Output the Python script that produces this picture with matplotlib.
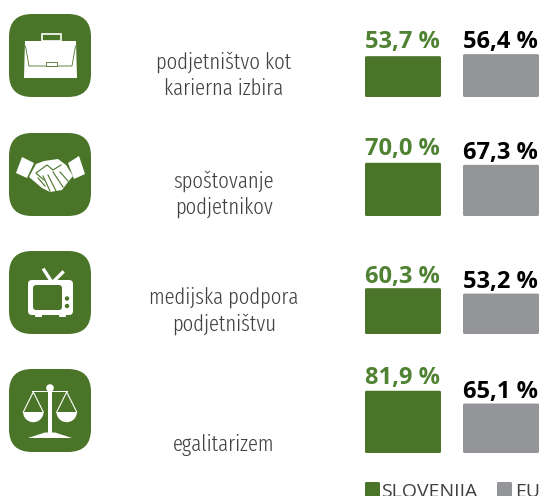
#!/usr/bin/env python3

"""Survey bars: Slovenia vs EU, four rows with an icon and a label each."""

import matplotlib

matplotlib.use("Agg")

import matplotlib.pyplot as plt
from matplotlib.patches import Circle, FancyBboxPatch, Polygon, Rectangle, Wedge

labels = [
    "podjetništvo kot\nkarierna izbira",
    "spoštovanje\npodjetnikov",
    "medijska podpora\npodjetništvu",
    "egalitarizem",
]
slovenia = [53.7, 70.0, 60.3, 81.9]
eu = [56.4, 67.3, 53.2, 65.1]
legend_names = ["SLOVENIJA", "EU"]

GREEN = "#4a7529"
TEXT_GREEN = "#4f8232"
GRAY = "#939598"
LABEL = "#414042"
WHITE = "#ffffff"

PX_PER_PCT = 0.76
BASELINES = [97, 216, 334, 453]
ICON_TOPS = [14, 133, 251, 369]
LABEL_Y = [75, 194, 311, 445]
GREEN_GAPS = [8, 8, 5.5, 7]
LABEL_FONT = ["Fira Sans Extra Condensed", "Open Sans"]


def rounded(ax, x, y, w, h, r, color, zorder=2):
    ax.add_patch(
        FancyBboxPatch(
            (x + r, y + r),
            w - 2 * r,
            h - 2 * r,
            boxstyle=f"round,pad={r},rounding_size={r}",
            fc=color,
            ec="none",
            zorder=zorder,
        )
    )


def briefcase(ax, top):
    o = top - 14
    ax.add_patch(
        Rectangle((41.5, 33.5 + o), 19, 7, fc="none", ec=WHITE, lw=1.2, zorder=3)
    )
    ax.add_patch(
        Polygon(
            [(25, 41 + o), (76, 41 + o), (77, 78 + o), (24, 78 + o)],
            fc=WHITE,
            ec="none",
            zorder=3,
        )
    )
    ax.plot(
        [25.5, 29, 72, 75.5],
        [46 + o, 66 + o, 66 + o, 46 + o],
        color=GREEN,
        lw=0.6,
        zorder=4,
    )
    ax.add_patch(
        Rectangle((45.5, 61.5 + o), 11, 4, fc=WHITE, ec=GREEN, lw=0.6, zorder=5)
    )


def handshake(ax, top):
    o = top - 133
    for pts in (
        [(22, 157), (34, 163), (27, 178), (16, 173)],
        [(68, 163), (79, 156), (85, 174), (74, 179)],
        [
            (36, 164),
            (44, 161),
            (58, 159),
            (66, 165),
            (73, 176),
            (68, 182),
            (62, 190),
            (50, 192),
            (42, 188),
            (29, 177),
        ],
    ):
        ax.add_patch(
            Polygon(
                [(x, y + o) for x, y in pts], fc=WHITE, ec="none", zorder=3
            )
        )
    ax.plot(
        [44, 38, 36, 47, 53, 61],
        [180 + o, 175 + o, 173 + o, 165 + o, 170 + o, 165 + o],
        color=GREEN,
        lw=0.8,
        zorder=4,
    )
    for x0, y0, x1, y1 in (
        (38, 178, 45, 186),
        (43, 176, 50, 191),
        (48, 175, 56, 191),
        (53, 172, 63, 187),
        (60, 172, 68, 181),
    ):
        ax.plot([x0, x1], [y0 + o, y1 + o], color=GREEN, lw=0.8, zorder=4)


def television(ax, top):
    o = top - 251
    rounded(ax, 28, 280 + o, 45, 35, 4, WHITE, zorder=3)
    rounded(ax, 33, 285 + o, 29, 25, 3, GREEN, zorder=4)
    rounded(ax, 35, 314 + o, 7, 3, 1, WHITE, zorder=3)
    rounded(ax, 59, 314 + o, 7, 3, 1, WHITE, zorder=3)
    ax.add_patch(Circle((67, 298.5 + o), 2.2, fc=GREEN, ec="none", zorder=4))
    ax.add_patch(Circle((67, 306 + o), 2.2, fc=GREEN, ec="none", zorder=4))
    ax.plot([44, 50.5], [270 + o, 280 + o], color=WHITE, lw=2.4, zorder=3)
    ax.plot([62.5, 55], [272.5 + o, 280 + o], color=WHITE, lw=2.4, zorder=3)


def scales(ax, top):
    o = top - 369
    ax.add_patch(Circle((50, 388 + o), 3.8, fc=WHITE, ec="none", zorder=3))
    ax.add_patch(Rectangle((48.2, 388 + o), 3.6, 45, fc=WHITE, ec="none", zorder=3))
    ax.add_patch(Rectangle((32, 390.8 + o), 36, 1.6, fc=WHITE, ec="none", zorder=3))
    ax.add_patch(
        Polygon(
            [(28, 438 + o), (45, 432.5 + o), (55, 432.5 + o), (72, 438 + o)],
            fc=WHITE,
            ec="none",
            zorder=3,
        )
    )
    for cx in (33.3, 66.7):
        ax.plot(
            [cx - 10, cx, cx + 10],
            [412 + o, 392 + o, 412 + o],
            color=WHITE,
            lw=0.8,
            zorder=3,
        )
        # y axis is flipped, so the lower half of the pan is theta 0-180
        ax.add_patch(Wedge((cx, 412 + o), 10.2, 0, 180, fc=WHITE, ec="none", zorder=3))


def main() -> None:
    fig = plt.figure(figsize=(5.49, 4.96), dpi=100)
    ax = fig.add_axes([0, 0, 1, 1])
    ax.set_xlim(0, 549)
    ax.set_ylim(496, 0)
    ax.axis("off")

    icons = [briefcase, handshake, television, scales]

    for i, label in enumerate(labels):
        rounded(ax, 9, ICON_TOPS[i], 82, 83, 23, GREEN)
        icons[i](ax, ICON_TOPS[i])

        ax.text(
            224,
            LABEL_Y[i],
            label,
            ha="center",
            va="center",
            family=LABEL_FONT,
            weight=300,
            fontsize=16.2,
            color=LABEL,
            linespacing=1.3,
        )

        base = BASELINES[i]

        h_si = slovenia[i] * PX_PER_PCT
        rounded(ax, 365, base - h_si, 76, h_si, 1.5, GREEN)
        ax.text(
            402.5,
            base - h_si - GREEN_GAPS[i],
            f"{slovenia[i]:.1f} %".replace(".", ","),
            ha="center",
            va="baseline",
            family="Open Sans",
            weight="bold",
            fontsize=17,
            color=TEXT_GREEN,
        )

        h_eu = eu[i] * PX_PER_PCT
        rounded(ax, 463, base - h_eu, 76, h_eu, 1.5, GRAY)
        ax.text(
            500.5,
            base - h_eu - 6,
            f"{eu[i]:.1f} %".replace(".", ","),
            ha="center",
            va="baseline",
            family="Open Sans",
            weight="bold",
            fontsize=17,
            color="#000000",
        )

    # Legend runs off the bottom edge in the reference
    rounded(ax, 365, 482, 15, 16, 1.5, GREEN)
    rounded(ax, 497, 482, 15, 16, 1.5, GRAY)
    ax.text(381.5, 497, legend_names[0], va="baseline", family="Open Sans", fontsize=14, color=LABEL)
    ax.text(515, 497, legend_names[1], va="baseline", family="Open Sans", fontsize=14, color=LABEL)

    fig.savefig("out.png", dpi=100)


if __name__ == "__main__":
    main()
